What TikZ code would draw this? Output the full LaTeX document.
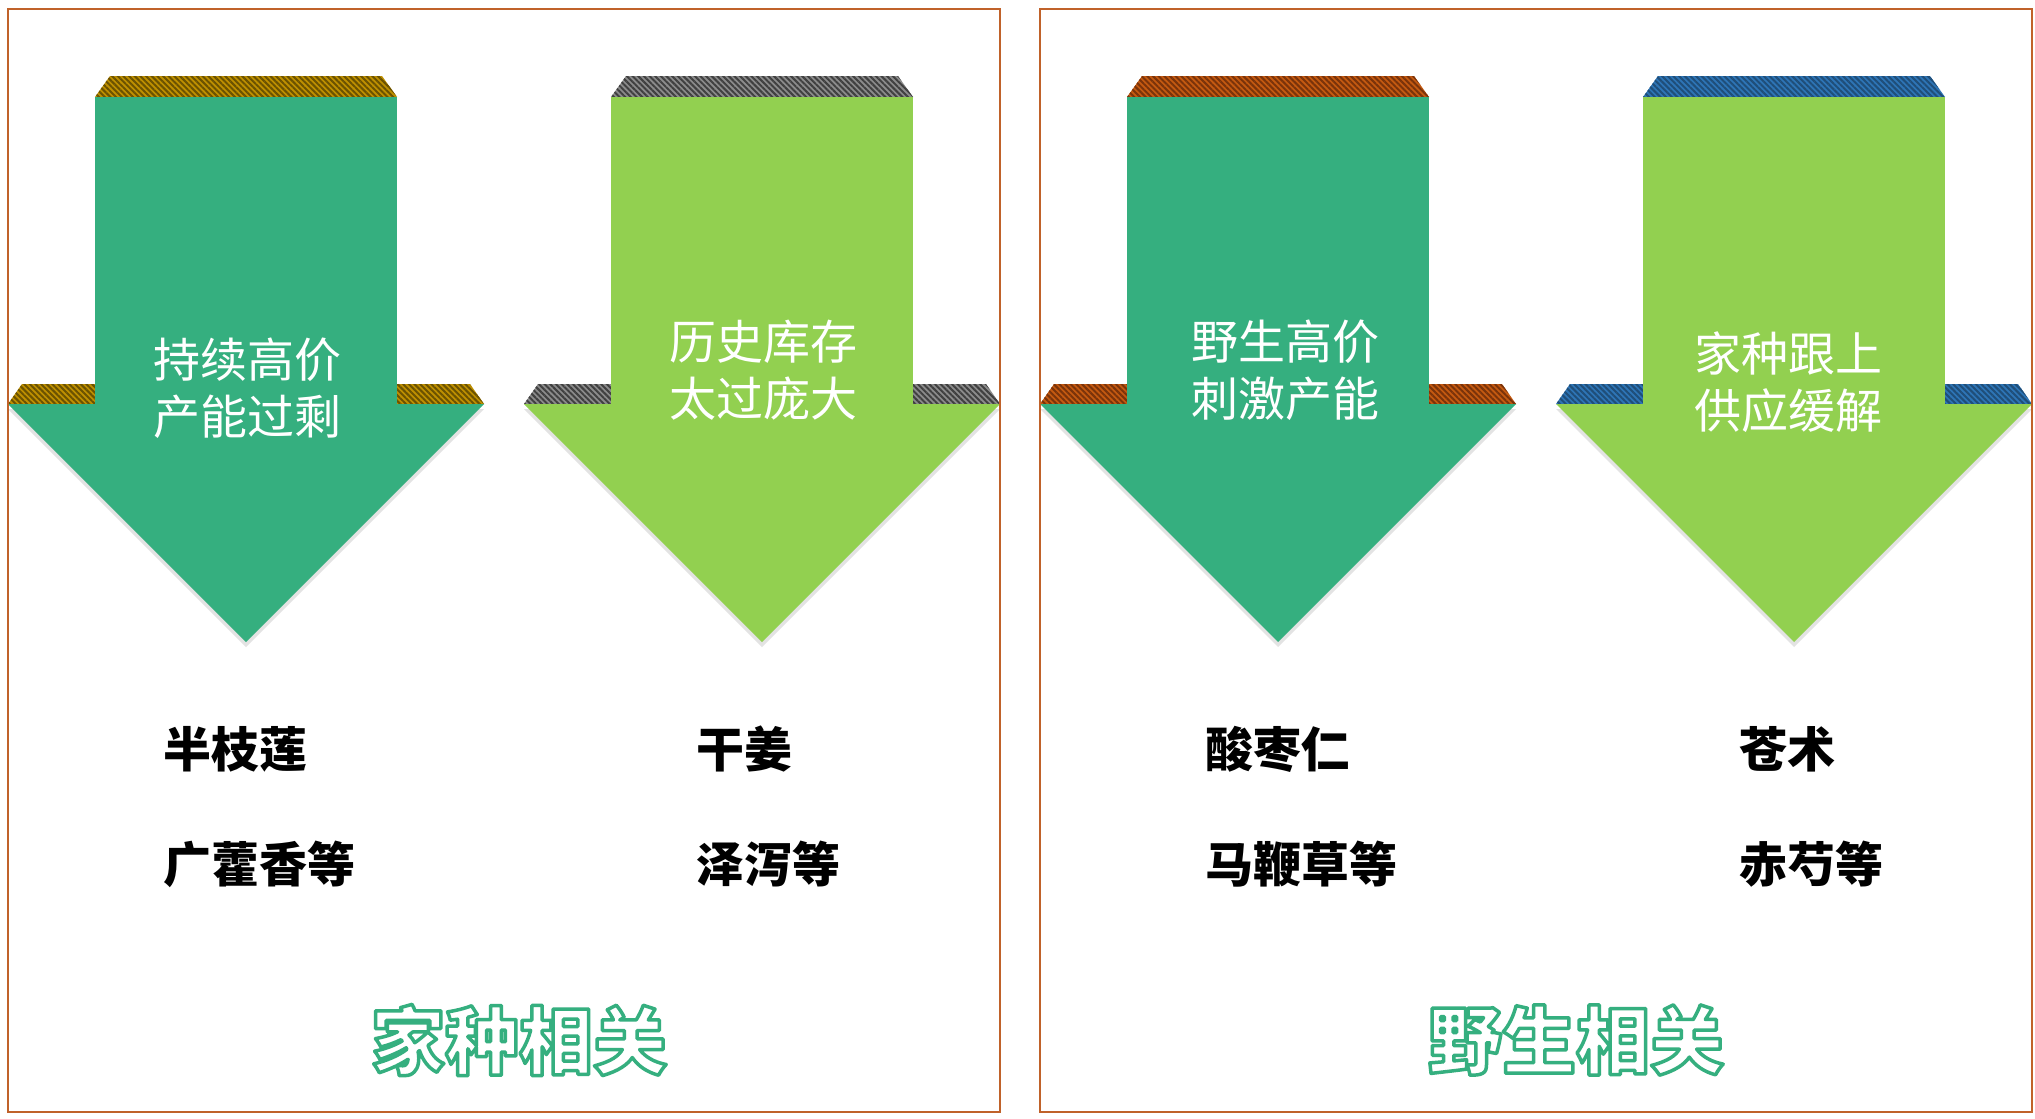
\documentclass[tikz,border=0pt]{standalone}
\usepackage{fontspec}
\setmainfont{Noto Sans CJK SC}
\usetikzlibrary{patterns.meta,calc}
\definecolor{dgreen}{HTML}{35AF7F}
\definecolor{lgreen}{HTML}{92D050}
\definecolor{frameC}{HTML}{C0622A}
\definecolor{goldA}{HTML}{BF9000}
\definecolor{goldB}{HTML}{6B5200}
\definecolor{greyA}{HTML}{8C8C8C}
\definecolor{greyB}{HTML}{404040}
\definecolor{orA}{HTML}{C55A11}
\definecolor{orB}{HTML}{7A330A}
\definecolor{blA}{HTML}{2E75B6}
\definecolor{blB}{HTML}{1F4E79}
\definecolor{shadowC}{HTML}{E3E3E3}
\tikzset{
  stripes/.style 2 args={fill=#1,postaction={pattern={Lines[angle=-45,distance=4bp,line width=2bp]},pattern color=#2}},
  atext/.style={text=white,font=\fontsize{47bp}{57bp}\selectfont,align=center,inner sep=0pt},
  lbl/.style={text=black,font=\fontsize{48bp}{58bp}\selectfont\bfseries,anchor=base west,inner sep=0pt},
  ttl/.style={text=white,font=\fontsize{74bp}{84bp}\selectfont\bfseries,inner sep=0pt},
  panel/.style={draw=frameC,line width=2.6bp},
}
% outlined text: white fill, green stroke (PDF text render mode 2)
\newcommand\outltext[1]{\special{pdf:literal direct 0.208 0.686 0.498 RG 2 Tr 3.5 w 1 j}#1\special{pdf:literal direct 0 Tr}}
\newcommand\bigarrow[4]{%
  \fill[shadowC] ({#1-238},409) -- ({#1+238},409) -- (#1,647) -- cycle;
  \fill[stripes={#3}{#4}] ({#1-151},97) -- ({#1-136},76) -- ({#1+136},76) -- ({#1+151},97) -- cycle;
  \fill[stripes={#3}{#4}] ({#1-238},404) -- ({#1-224},384) -- ({#1-151},384) -- ({#1-151},404) -- cycle;
  \fill[stripes={#3}{#4}] ({#1+238},404) -- ({#1+224},384) -- ({#1+151},384) -- ({#1+151},404) -- cycle;
  \fill[#2] ({#1-151},97) rectangle ({#1+151},405);
  \fill[#2] ({#1-238},404) -- ({#1+238},404) -- (#1,642) -- cycle;
}
\begin{document}
\begin{tikzpicture}[x=1bp,y=-1bp]
\useasboundingbox (0,0) rectangle (2035,1118);
\fill[white] (0,0) rectangle (2035,1118);
% arrows
\bigarrow{246}{dgreen}{goldA}{goldB}
\bigarrow{762}{lgreen}{greyA}{greyB}
\bigarrow{1278}{dgreen}{orA}{orB}
\bigarrow{1794}{lgreen}{blA}{blB}
% arrow texts
\node[atext] (a1) at (247,388) {持续高价\\产能过剩};
\node[atext] (a2) at (763,370) {历史库存\\太过庞大};
\node[atext] (a3) at (1285,370) {野生高价\\刺激产能};
\node[atext] (a4) at (1788,382) {家种跟上\\供应缓解};
% labels
\node[lbl] (l1) at (163,767) {半枝莲};
\node[lbl] (l2) at (163,882) {广藿香等};
\node[lbl] (l3) at (696,767) {干姜};
\node[lbl] (l4) at (696,882) {泽泻等};
\node[lbl] (l5) at (1205,767) {酸枣仁};
\node[lbl] (l6) at (1205,882) {马鞭草等};
\node[lbl] (l7) at (1739,767) {苍术};
\node[lbl] (l8) at (1739,882) {赤芍等};
% titles
\node[ttl] (T1) at (519,1040) {\outltext{家种相关}};
\node[ttl] (T2) at (1576,1040) {\outltext{野生相关}};
% panels
\draw[panel] (8,9) rectangle (1000,1112);
\draw[panel] (1040,9) rectangle (2032,1112);
\end{tikzpicture}
\end{document}
